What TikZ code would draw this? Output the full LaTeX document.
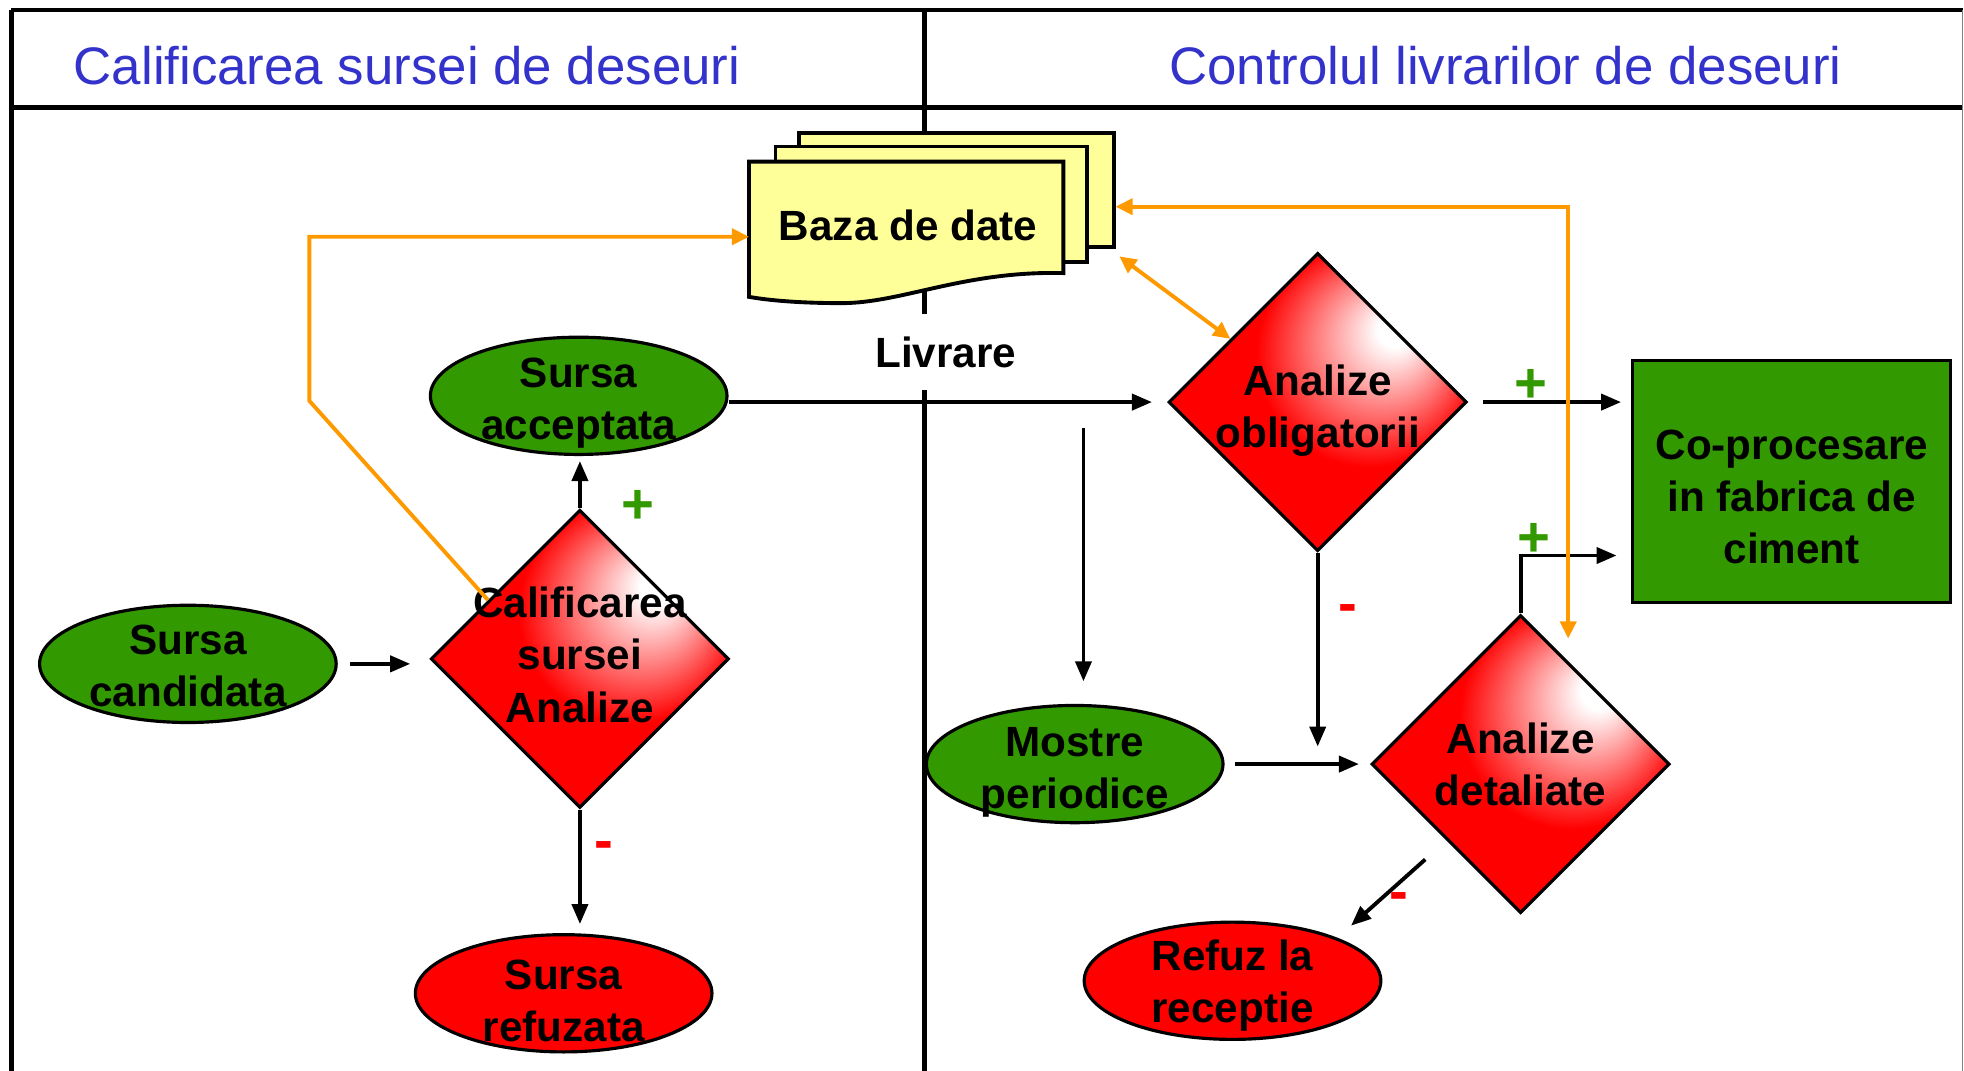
\documentclass[tikz,border=0pt]{standalone}
\usepackage{fontspec}
\setmainfont{Liberation Sans}
\usetikzlibrary{shapes.geometric,arrows.meta,calc}
\definecolor{okgreen}{RGB}{51,153,0}
\definecolor{dbyellow}{RGB}{255,255,153}
\definecolor{linkorange}{RGB}{255,153,0}
\definecolor{hdrblue}{RGB}{51,51,204}
\pgfdeclareradialshading{redshine}{\pgfpoint{14bp}{13bp}}{color(0bp)=(white); color(3bp)=(white); color(19bp)=(red); color(50bp)=(red)}
\tikzset{dbtip/.tip={Triangle[length=1.7mm,width=1.6mm]}}

\begin{document}
\begin{tikzpicture}[
    x=0.125mm, y=-0.125mm,
    txt/.style={align=center, font=\bfseries\fontsize{12}{14.8}\selectfont},
    source/.style={ellipse, draw, line width=0.9pt, fill=okgreen, minimum width=29.6mm, minimum height=11.7mm, inner sep=0pt},
    reject/.style={source, fill=red},
    decision/.style={diamond, draw, line width=0.9pt, shading=redshine, minimum width=29.75mm, minimum height=29.75mm, inner sep=0pt},
    sheet/.style={draw, line width=1.1pt, fill=dbyellow},
    flow/.style={-{Triangle[length=2mm,width=1.6mm]}, line width=1.1pt},
    dblink/.style={draw=linkorange, line width=1.1pt},
    frame/.style={line width=1.4pt},
    plus/.style={text=okgreen, font=\bfseries\fontsize{16}{16}\selectfont, inner sep=0pt},
    minus/.style={plus, text=red},
    lane/.style={text=hdrblue, font=\fontsize{15}{18}\selectfont} % titlurile coloanelor
]
\useasboundingbox (0,0) rectangle (1568,855);
\draw[frame] (9,8) -- (1567,8);
\draw[frame] (9,86) -- (1567,86);
\draw[frame] (9,8) -- (9,855);
\draw[frame] (738,8) -- (738,855);
\draw[gray, line width=0.4pt] (1567,8) -- (1567,855);
\node[lane] (hleft) at (325,52) {Calificarea sursei de deseuri};
\node[lane] (hright) at (1202,52) {Controlul livrarilor de deseuri};

% baza de date
\node[sheet, minimum width=31.4mm, minimum height=11.4mm] (dbback) at (763.5,151.5) {};
\node[sheet, minimum width=31.1mm, minimum height=11.5mm] (dbmid) at (743.5,163) {};
\draw[sheet] (598,129) -- (849,129) -- (849,218) .. controls (770,216) and (720,242) .. (672,242) .. controls (640,242) and (615,240) .. (598,237) -- cycle;
\node[txt] (db) at (725,180) {Baza de date};
\coordinate (dbin) at (598,189);

\node[source, label={[txt, yshift=-0.25mm]center:{Sursa\\candidata}}] (cand) at (150,530) {};
\node[decision, label={[txt, yshift=0.4mm]center:{Calificarea\\sursei\\Analize}}] (calif) at (463,526) {};
\node[source, label={[txt, yshift=-0.75mm]center:{Sursa\\acceptata}}] (accept) at (462,316) {};
\node[reject, label={[txt, yshift=-0.75mm]center:{Sursa\\refuzata}}] (refsrc) at (450,793) {};

\node[decision, label={[txt, yshift=-0.85mm]center:{Analize\\obligatorii}}] (oblig) at (1052,321) {};
\node[decision, label={[txt]center:{Analize\\detaliate}}] (detal) at (1214,610) {};
\node[source, label={[txt, yshift=-0.85mm]center:{Mostre\\periodice}}] (mostre) at (858,610) {};
\node[reject, label={[txt, yshift=-0.5mm]center:{Refuz la\\receptie}}] (refrec) at (984,783) {};
\node[draw, line width=0.9pt, fill=okgreen, minimum width=31.75mm, minimum height=24.1mm,
      label={[txt, yshift=-1.5mm]center:{Co-procesare\\in fabrica de\\ciment}}] (coproc) at (1430.5,384.5) {};
\node[txt, fill=white, inner ysep=2.2mm] (livr) at (755,281) {Livrare};

% fluxuri
\draw[flow, shorten <=1.25mm, shorten >=1.9mm] (cand.east) -- (cand.east -| calif.west);
\draw[flow, shorten >=0.5mm] (calif.north) -- (calif.north |- accept.south);
\draw[flow, shorten >=0.9mm] (calif.south) -- (calif.south |- refsrc.north);
\draw[flow, shorten >=1.5mm] (accept.east |- oblig.west) -- (oblig.west);
\draw[flow, shorten <=1.5mm, shorten >=1mm] (oblig.east) -- (oblig.east -| coproc.west);
\draw[flow, shorten >=1.75mm] (oblig.south) -- (oblig.south |- detal.west);
\coordinate (branch) at (865,342);
\draw[flow, shorten >=2.25mm] (branch) -- (branch |- mostre.north);
\draw[flow, shorten <=1mm, shorten >=1.1mm] (mostre.east) -- (mostre.east -| detal.west);
\draw[flow, shorten >=1.45mm] (detal.north) |- ($(coproc.west)+(0,59)$);
\draw[flow] ($(detal.south west)+(-16,16)$) -- ($(refrec.north east)+(10,-10)$);

% legaturi cu baza de date
\draw[dblink, -dbtip] ($(calif.west)!0.39!(calif.north)$) -- (247,320) -- (247,189) -- (dbin);
\coordinate (obend) at (1252,165);
\coordinate (obtip) at ($(detal.north)+(38,20)$);
\draw[dblink, dbtip-dbtip] (dbback.east |- obend) -| (obtip);
\draw[dblink, dbtip-dbtip] ($(dbback.south east)+(3,6)$) -- ($(oblig.west)!0.42!(oblig.north)$);

\node[plus] (p1) at (509,405) {+};
\node[minus] (m1) at (482,679) {-};
\node[plus] (p2) at (1222,308) {+};
\node[minus] (m2) at (1076,490) {-};
\node[plus] (p3) at (1225,431) {+};
\node[minus] (m3) at (1117,720) {-};
\end{tikzpicture}
\end{document}
